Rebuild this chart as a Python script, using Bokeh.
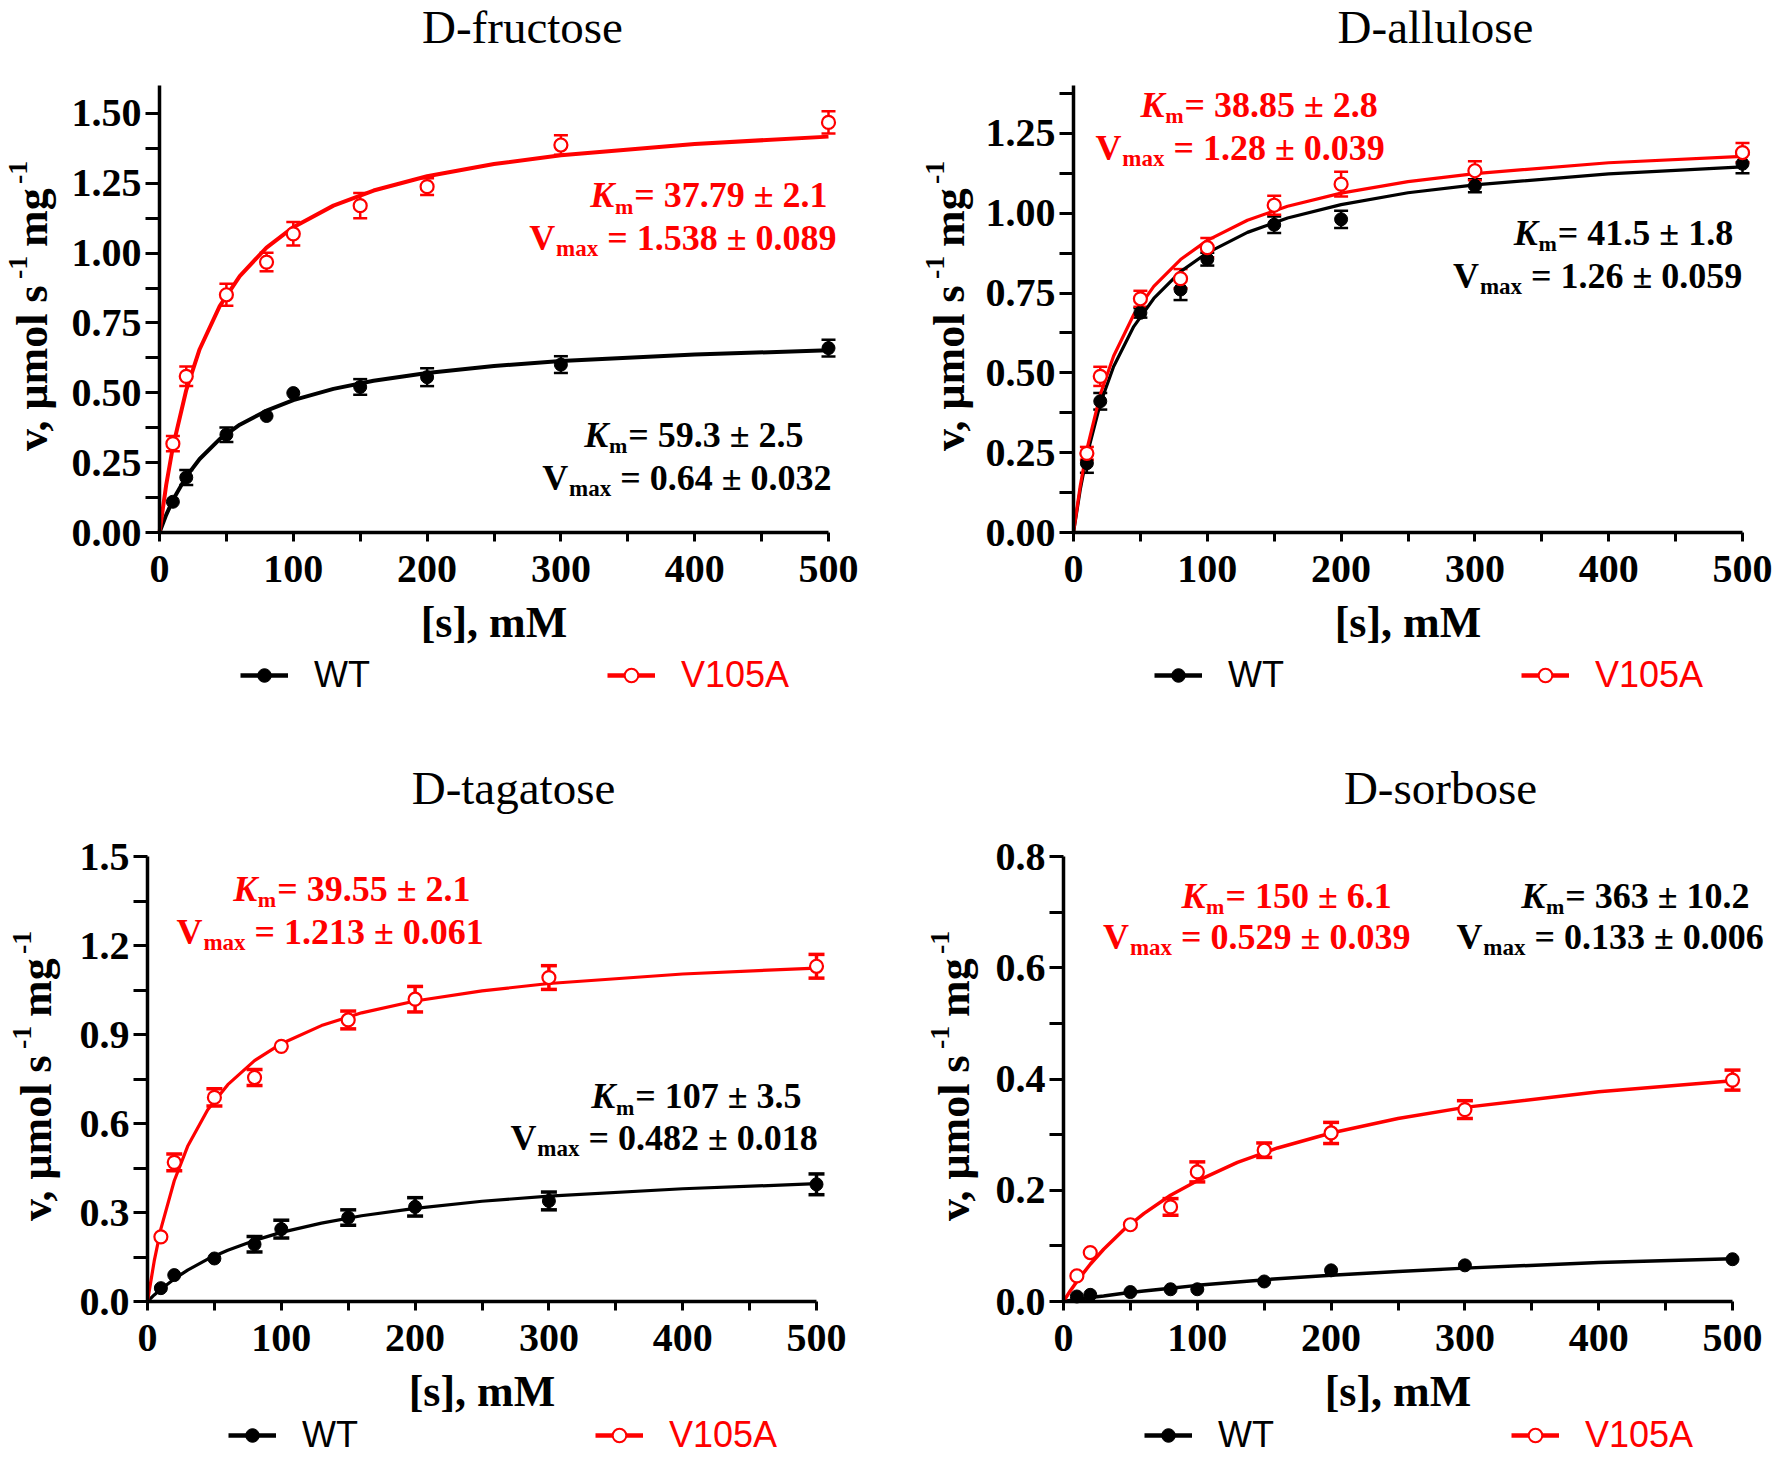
from math import pi
from bokeh.plotting import figure
from bokeh.layouts import column, row
from bokeh.models import (ColumnDataSource, Label, Legend, LegendItem, Whisker, TeeHead,
                          FixedTicker, Range1d)
from bokeh.embed import file_html
from bokeh.resources import INLINE

# ---------------- data ----------------
substrate_mM = [10, 20, 50, 80, 100, 150, 200, 300, 500]
fit_s_mM = [0, 5, 10, 20, 30, 45, 60, 80, 100, 130, 160, 200, 250, 300, 400, 500]

fructose_wt = [0.110, 0.197, 0.350, 0.417, 0.499, 0.521, 0.556, 0.601, 0.660]
fructose_wt_err = [0.0, 0.027, 0.026, 0.0, 0.0, 0.028, 0.032, 0.030, 0.030]
fructose_mut = [0.318, 0.559, 0.851, 0.968, 1.069, 1.170, 1.238, 1.387, 1.468]
fructose_mut_err = [0.027, 0.035, 0.039, 0.033, 0.042, 0.045, 0.030, 0.035, 0.040]
fructose_wt_fit = [0, 0.063, 0.116, 0.200, 0.263, 0.334, 0.386, 0.436, 0.474, 0.514, 0.543, 0.571, 0.596, 0.614, 0.637, 0.652]
fructose_mut_fit = [0, 0.170, 0.306, 0.510, 0.656, 0.810, 0.918, 1.020, 1.093, 1.170, 1.224, 1.275, 1.319, 1.350, 1.391, 1.417]

allulose_wt = [0.217, 0.411, 0.688, 0.761, 0.856, 0.964, 0.981, 1.086, 1.155]
allulose_wt_err = [0.030, 0.026, 0.015, 0.033, 0.020, 0.026, 0.027, 0.020, 0.030]
allulose_mut = [0.248, 0.489, 0.732, 0.795, 0.892, 1.025, 1.091, 1.133, 1.190]
allulose_mut_err = [0.020, 0.030, 0.025, 0.030, 0.030, 0.030, 0.039, 0.030, 0.030]
allulose_wt_fit = [0, 0.133, 0.241, 0.403, 0.520, 0.645, 0.733, 0.817, 0.876, 0.940, 0.985, 1.027, 1.064, 1.089, 1.123, 1.145]
allulose_mut_fit = [0, 0.145, 0.260, 0.432, 0.553, 0.682, 0.771, 0.855, 0.915, 0.978, 1.022, 1.063, 1.099, 1.124, 1.158, 1.178]

tagatose_wt = [0.045, 0.089, 0.145, 0.193, 0.244, 0.283, 0.319, 0.339, 0.395]
tagatose_wt_err = [0.0, 0.0, 0.0, 0.026, 0.030, 0.026, 0.031, 0.030, 0.035]
tagatose_mut = [0.218, 0.469, 0.688, 0.755, 0.860, 0.949, 1.019, 1.092, 1.130]
tagatose_mut_err = [0.0, 0.028, 0.029, 0.027, 0.0, 0.030, 0.043, 0.040, 0.040]
tagatose_wt_fit = [0, 0.022, 0.041, 0.076, 0.106, 0.143, 0.173, 0.206, 0.233, 0.264, 0.289, 0.314, 0.338, 0.355, 0.380, 0.397]
tagatose_mut_fit = [0, 0.136, 0.245, 0.407, 0.523, 0.646, 0.731, 0.812, 0.869, 0.930, 0.973, 1.013, 1.047, 1.072, 1.104, 1.124]

sorbose_wt = [0.009, 0.012, 0.017, 0.022, 0.022, 0.036, 0.056, 0.065, 0.076]
sorbose_wt_err = [0.0, 0.0, 0.0, 0.0, 0.0, 0.0, 0.0, 0.0, 0.0]
sorbose_mut = [0.046, 0.088, 0.138, 0.170, 0.233, 0.272, 0.303, 0.345, 0.398]
sorbose_mut_err = [0.0, 0.0, 0.0, 0.015, 0.018, 0.013, 0.019, 0.016, 0.018]
sorbose_wt_fit = [0, 0.002, 0.004, 0.007, 0.010, 0.015, 0.019, 0.024, 0.029, 0.035, 0.041, 0.047, 0.054, 0.060, 0.070, 0.077]
sorbose_mut_fit = [0, 0.019, 0.036, 0.067, 0.094, 0.129, 0.158, 0.191, 0.217, 0.250, 0.276, 0.303, 0.329, 0.349, 0.377, 0.397]

panel_titles = ["D-fructose", "D-allulose", "D-tagatose", "D-sorbose"]
series_names = ["WT", "V105A"]
km_wt_text = ["= 59.3 \u00b1 2.5", "= 41.5 \u00b1 1.8", "= 107 \u00b1 3.5", "= 363 \u00b1 10.2"]
vmax_wt_text = ["= 0.64 \u00b1 0.032", "= 1.26 \u00b1 0.059", "= 0.482 \u00b1 0.018", "= 0.133 \u00b1 0.006"]
km_mut_text = ["= 37.79 \u00b1 2.1", "= 38.85 \u00b1 2.8", "= 39.55 \u00b1 2.1", "= 150 \u00b1 6.1"]
vmax_mut_text = ["= 1.538 \u00b1 0.089", "= 1.28 \u00b1 0.039", "= 1.213 \u00b1 0.061", "= 0.529 \u00b1 0.039"]

x_ticks = [0, 100, 200, 300, 400, 500]
x_tick_labels = ["0", "100", "200", "300", "400", "500"]
x_minor_ticks = [50, 150, 250, 350, 450]
y_ticks_a = [0, 0.25, 0.5, 0.75, 1.0, 1.25, 1.5]
y_tick_labels_a = ["0.00", "0.25", "0.50", "0.75", "1.00", "1.25", "1.50"]
y_minor_a = [0.125, 0.375, 0.625, 0.875, 1.125, 1.375]
y_ticks_b = [0, 0.25, 0.5, 0.75, 1.0, 1.25]
y_tick_labels_b = ["0.00", "0.25", "0.50", "0.75", "1.00", "1.25"]
y_minor_b = [0.125, 0.375, 0.625, 0.875, 1.125, 1.375]
y_ticks_c = [0, 0.3, 0.6, 0.9, 1.2, 1.5]
y_tick_labels_c = ["0.0", "0.3", "0.6", "0.9", "1.2", "1.5"]
y_minor_c = [0.15, 0.45, 0.75, 1.05, 1.35]
y_ticks_d = [0, 0.2, 0.4, 0.6, 0.8]
y_tick_labels_d = ["0.0", "0.2", "0.4", "0.6", "0.8"]
y_minor_d = [0.1, 0.3, 0.5, 0.7]

# ---------------- styling / layout ----------------
RED = "#ff0000"
SERIF = "Liberation Serif"
SANS = "Liberation Sans"
FIG_W = 886
X_PX = 669.0          # pixels spanned by 0..500 mM
MID = 0.34            # text-box middle to baseline, in em
NAN = float("nan")

panels = [
    dict(idx=0, wt=fructose_wt, wte=fructose_wt_err, mut=fructose_mut, mute=fructose_mut_err,
         wtf=fructose_wt_fit, mutf=fructose_mut_fit, yt=y_ticks_a, ytl=y_tick_labels_a, ym=y_minor_a, ymax=1.6,
         h=760, T=85, FH=447, L=159, lw=4.0, elw=2.5, cap=14, title_dx=363, title_dy=43,
         ylab_x=-112, leg_dy=144,
         km_mut=(354.8, 1.163), vm_mut=(334.6, 1.009), km_wt=(350.3, 0.305), vm_wt=(344.3, 0.151)),
    dict(idx=1, wt=allulose_wt, wte=allulose_wt_err, mut=allulose_mut, mute=allulose_mut_err,
         wtf=allulose_wt_fit, mutf=allulose_mut_fit, yt=y_ticks_b, ytl=y_tick_labels_b, ym=y_minor_b, ymax=1.4,
         h=760, T=85, FH=447, L=187, lw=3.2, elw=2.5, cap=14, title_dx=362, title_dy=43,
         ylab_x=-109, leg_dy=144,
         km_mut=(83.0, 1.300), vm_mut=(74.7, 1.165), km_wt=(362.0, 0.900), vm_wt=(342.0, 0.765)),
    dict(idx=2, wt=tagatose_wt, wte=tagatose_wt_err, mut=tagatose_mut, mute=tagatose_mut_err,
         wtf=tagatose_wt_fit, mutf=tagatose_mut_fit, yt=y_ticks_c, ytl=y_tick_labels_c, ym=y_minor_c, ymax=1.5,
         h=699, T=96, FH=445, L=147, lw=3.2, elw=3.5, cap=16, title_dx=366, title_dy=53,
         ylab_x=-96, leg_dy=135,
         km_mut=(96.9, 1.350), vm_mut=(80.0, 1.204), km_wt=(364.6, 0.650), vm_wt=(329.6, 0.510)),
    dict(idx=3, wt=sorbose_wt, wte=sorbose_wt_err, mut=sorbose_mut, mute=sorbose_mut_err,
         wtf=sorbose_wt_fit, mutf=sorbose_mut_fit, yt=y_ticks_d, ytl=y_tick_labels_d, ym=y_minor_d, ymax=0.8,
         h=699, T=96, FH=445, L=177, lw=3.5, elw=3.5, cap=16, title_dx=377, title_dy=53,
         ylab_x=-94, leg_dy=135,
         km_mut=(121.0, 0.707), vm_mut=(87.9, 0.633), km_wt=(375.0, 0.707), vm_wt=(352.0, 0.633)),
]


def text_at(p, x, y, text, size, color="black", style="bold", align="left", dx=0, dy=0, angle=0.0,
            font=SERIF):
    """Place text so that its baseline sits dx/dy pixels from the data point (x, y)."""
    if angle:
        xo, yo = dx - MID * size, dy
    else:
        xo, yo = dx, dy + MID * size
    p.add_layout(Label(x=x, y=y, x_offset=xo, y_offset=yo, text=text, angle=angle,
                       text_align=align, text_baseline="middle", text_font=font,
                       text_font_style=style, text_font_size=f"{size}px", text_color=color))


def add_kinetics(p, color, km_txt, vm_txt, km_pos, vm_pos):
    kx, ky = km_pos
    text_at(p, kx, ky, km_txt, 36, color)
    text_at(p, kx, ky, "m", 22, color, align="right", dx=-1, dy=-6)
    text_at(p, kx, ky, "K", 36, color, style="bold italic", align="right", dx=-20)
    vx, vy = vm_pos
    text_at(p, vx, vy, vm_txt, 36, color)
    text_at(p, vx, vy, "max", 23, color, align="right", dx=-9, dy=-6)
    text_at(p, vx, vy, "V", 36, color, align="right", dx=-52)


def build(cfg):
    i = cfg["idx"]
    ymax = cfg["ymax"]
    px_x = X_PX / 500.0
    px_y = cfg["FH"] / ymax
    below_px = cfg["h"] - cfg["T"] - cfg["FH"]
    x_range = Range1d(-cfg["L"] / px_x, (FIG_W - cfg["L"]) / px_x)
    y_range = Range1d(-below_px / px_y, ymax + cfg["T"] / px_y)
    p = figure(width=FIG_W, height=cfg["h"], x_range=x_range, y_range=y_range,
               output_backend="svg", toolbar_location=None, tools="", title=None,
               min_border_left=0, min_border_right=0, min_border_top=0, min_border_bottom=0)
    p.outline_line_color = None
    p.xgrid.visible = False
    p.ygrid.visible = False
    p.background_fill_color = "white"
    p.border_fill_color = "white"

    xa, ya = p.xaxis[0], p.yaxis[0]
    xa.fixed_location = 0
    ya.fixed_location = 0
    xa.ticker = FixedTicker(ticks=x_ticks, minor_ticks=x_minor_ticks)
    xa.major_label_overrides = dict(zip(x_ticks, x_tick_labels))
    xa.bounds = (0, 500)
    ya.ticker = FixedTicker(ticks=cfg["yt"], minor_ticks=cfg["ym"])
    ya.major_label_overrides = dict(zip(cfg["yt"], cfg["ytl"]))
    ya.bounds = (0, ymax)
    for ax in (xa, ya):
        ax.axis_line_width = 3.5
        ax.axis_line_color = "black"
        ax.major_tick_line_width = 3
        ax.minor_tick_line_width = 3
        ax.major_tick_line_color = "black"
        ax.minor_tick_line_color = "black"
        ax.major_tick_in = 0
        ax.minor_tick_in = 0
        ax.major_label_text_font = SERIF
        ax.major_label_text_font_style = "bold"
        ax.major_label_text_font_size = "40px"
        ax.major_label_text_color = "black"
    xa.major_tick_out = 9
    xa.minor_tick_out = 9
    xa.major_label_standoff = 14
    ya.major_tick_out = 14
    ya.minor_tick_out = 14
    ya.major_label_standoff = 4

    # error bars
    for vals, errs, col in ((cfg["wt"], cfg["wte"], "black"), (cfg["mut"], cfg["mute"], RED)):
        xs = [s for s, e in zip(substrate_mM, errs) if e > 0]
        up = [v + e for v, e in zip(vals, errs) if e > 0]
        lo = [v - e for v, e in zip(vals, errs) if e > 0]
        src = ColumnDataSource(dict(x=xs, upper=up, lower=lo))
        p.add_layout(Whisker(base="x", upper="upper", lower="lower", source=src, level="underlay",
                             line_color=col, line_width=cfg["elw"],
                             upper_head=TeeHead(size=cfg["cap"], line_color=col, line_width=cfg["elw"]),
                             lower_head=TeeHead(size=cfg["cap"], line_color=col, line_width=cfg["elw"])))

    p.line(fit_s_mM, cfg["wtf"], line_color="black", line_width=cfg["lw"])
    p.line(fit_s_mM, cfg["mutf"], line_color=RED, line_width=cfg["lw"])
    p.scatter(substrate_mM, cfg["wt"], marker="circle", size=13,
              fill_color="black", line_color="black", line_width=1)
    p.scatter(substrate_mM, cfg["mut"], marker="circle", size=13,
              fill_color="white", line_color=RED, line_width=2.2)

    # kinetic constants
    add_kinetics(p, RED, km_mut_text[i], vmax_mut_text[i], cfg["km_mut"], cfg["vm_mut"])
    add_kinetics(p, "black", km_wt_text[i], vmax_wt_text[i], cfg["km_wt"], cfg["vm_wt"])

    # title
    text_at(p, 0, ymax, panel_titles[i], 47, style="normal", align="center",
            dx=cfg["title_dx"], dy=cfg["title_dy"])
    # x axis label
    text_at(p, 250, 0, "[s], mM", 44, align="center", dy=-105)
    # y axis label (rotated, with superscripts)
    bx = cfg["ylab_x"]
    for txt, d_along, d_up, size in (("v, \u03bcmol s", 0, 0, 44), ("-1", 172, -20, 28),
                                     ("mg", 204, 0, 44), ("-1", 267, -20, 28)):
        text_at(p, 0, ymax / 2, txt, size, align="left", angle=pi / 2,
                dx=bx + d_up, dy=-142 + d_along)

    # legend keys: glyph-only renderers holding no drawable point
    key_wt_line = p.line([NAN], [NAN], line_color="black", line_width=4.5)
    key_wt_pt = p.scatter([NAN], [NAN], marker="circle", fill_color="black", line_color="black", size=12)
    key_mut_line = p.line([NAN], [NAN], line_color=RED, line_width=4.5)
    key_mut_pt = p.scatter([NAN], [NAN], marker="circle", fill_color="white", line_color=RED,
                           line_width=2, size=12)
    leg_bottom = below_px - cfg["leg_dy"] - 20
    for label, rends, col, lx in ((series_names[0], [key_wt_line, key_wt_pt], "black", 81),
                                  (series_names[1], [key_mut_line, key_mut_pt], RED, 448)):
        leg = Legend(items=[LegendItem(label=label, renderers=rends)],
                     location=(cfg["L"] + lx, leg_bottom),
                     orientation="horizontal", glyph_width=48, glyph_height=34, label_standoff=26,
                     padding=0, margin=0, spacing=0, border_line_alpha=0, background_fill_alpha=0,
                     label_text_font=SANS, label_text_font_size="36px", label_text_color=col,
                     label_height=30, label_text_baseline="middle")
        p.add_layout(leg)
    return p


figs = [build(c) for c in panels]
layout = column(row(figs[0], figs[1]), row(figs[2], figs[3]))
open("out.html", "w").write(file_html(layout, INLINE, title="Kinetics"))
